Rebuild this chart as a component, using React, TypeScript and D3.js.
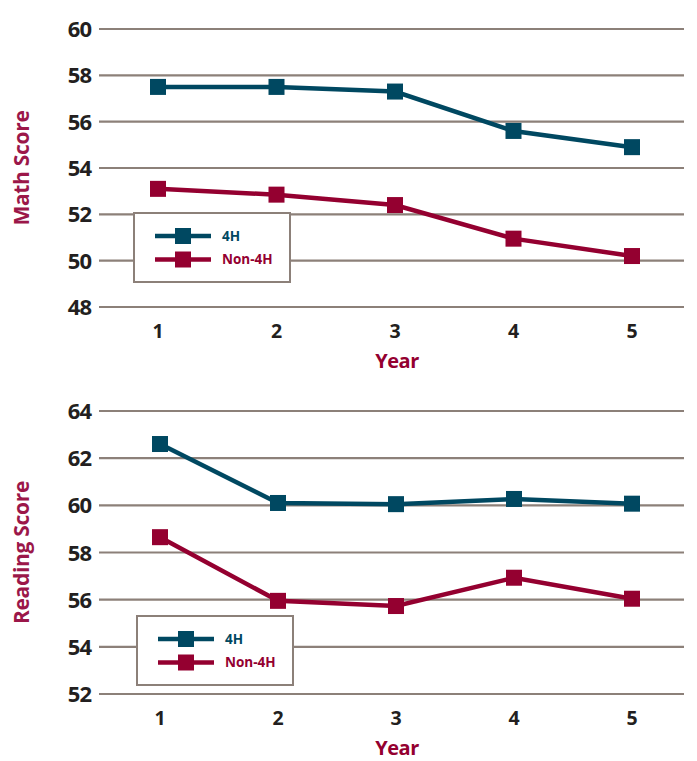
import React from "react";
import * as d3 from "d3";

const years = [1, 2, 3, 4, 5];
const seriesNames = ["4H", "Non-4H"];
const mathFourH = [57.5, 57.5, 57.3, 55.6, 54.9];
const mathNonFourH = [53.1, 52.85, 52.4, 50.95, 50.2];
const mathTicks = [48, 50, 52, 54, 56, 58, 60];
const readFourH = [62.6, 60.1, 60.05, 60.27, 60.07];
const readNonFourH = [58.65, 55.95, 55.73, 56.93, 56.04];
const readTicks = [52, 54, 56, 58, 60, 62, 64];

const TEAL = "#004861";
const RED = "#940030";
const GRID = "#8c8079";
const TEXT = "#231f20";
const LABEL = "#9b1749";
const FONT = "'Open Sans', 'Noto Sans', sans-serif";

interface PanelProps {
  top: number;
  bottom: number;
  ticks: number[];
  a: number[];
  b: number[];
  yLabel: string;
  legend: { x: number; y: number };
  xStart: number;
}

function Panel({ top, bottom, ticks, a, b, yLabel, legend, xStart }: PanelProps) {
  const y = d3.scaleLinear().domain([ticks[0], ticks[ticks.length - 1]]).range([bottom, top]);
  const x = d3.scaleLinear().domain([1, 5]).range([xStart, 632]);
  const line = d3
    .line<number>()
    .x((_, i) => x(years[i]))
    .y((v) => y(v));
  const series = [
    { vals: a, color: TEAL },
    { vals: b, color: RED },
  ];
  return (
    <g>
      {ticks.map((t) => (
        <g key={t}>
          <line x1={99} x2={684} y1={y(t)} y2={y(t)} stroke={GRID} strokeWidth={2.2} />
          <text
            x={91}
            y={y(t)}
            dy="0.37em"
            textAnchor="end"
            fontFamily={FONT}
            fontWeight={700}
            fontSize={22}
            fill={TEXT}
            letterSpacing={-1}
          >
            {t}
          </text>
        </g>
      ))}
      {years.map((yr) => (
        <text
          key={yr}
          x={x(yr)}
          y={bottom + 31}
          textAnchor="middle"
          fontFamily={FONT}
          fontWeight={700}
          fontSize={19.5}
          fill={TEXT}
        >
          {yr}
        </text>
      ))}
      <text
        x={397}
        y={bottom + 61}
        textAnchor="middle"
        fontFamily={FONT}
        fontWeight={700}
        fontSize={20}
        fill={RED}
        letterSpacing={-0.5}
      >
        Year
      </text>
      <text
        transform={`translate(29,${(top + bottom) / 2}) rotate(-90)`}
        textAnchor="middle"
        fontFamily={FONT}
        fontWeight={700}
        fontSize={21}
        fill={LABEL}
        letterSpacing={-0.3}
      >
        {yLabel}
      </text>
      {series.map((s, si) => (
        <g key={si}>
          <path d={line(s.vals) || ""} fill="none" stroke={s.color} strokeWidth={4.5} />
          {s.vals.map((v, i) => (
            <rect key={i} x={x(years[i]) - 8} y={y(v) - 8} width={16} height={16} fill={s.color} />
          ))}
        </g>
      ))}
      <g transform={`translate(${legend.x},${legend.y})`}>
        <rect x={0} y={0} width={156} height={69} fill="#fff" stroke={GRID} strokeWidth={2} />
        {seriesNames.map((n, i) => {
          const c = i === 0 ? TEAL : RED;
          const ry = 23 + i * 23.5;
          return (
            <g key={n}>
              <line x1={21} x2={77} y1={ry} y2={ry} stroke={c} strokeWidth={4.5} />
              <rect x={41} y={ry - 8} width={16} height={16} fill={c} />
              <text x={88} y={ry} dy="0.36em" fontFamily={FONT} fontWeight={700} fontSize={13.5} fill={c}>
                {n}
              </text>
            </g>
          );
        })}
      </g>
    </g>
  );
}

export default function App() {
  return (
    <svg width={697} height={761} style={{ display: "block", position: "absolute", left: 0, top: 0 }}>
      <rect width={697} height={761} fill="#fff" />
      <Panel
        top={29}
        bottom={307}
        ticks={mathTicks}
        a={mathFourH}
        b={mathNonFourH}
        yLabel="Math Score"
        legend={{ x: 134, y: 213 }}
        xStart={158}
      />
      <Panel
        top={411}
        bottom={694}
        ticks={readTicks}
        a={readFourH}
        b={readNonFourH}
        yLabel="Reading Score"
        legend={{ x: 137, y: 616 }}
        xStart={160}
      />
    </svg>
  );
}
